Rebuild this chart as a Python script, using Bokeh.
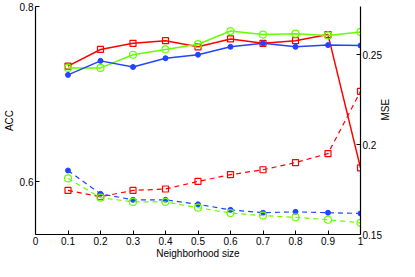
import math
from bokeh.plotting import figure
from bokeh.models import LinearAxis, Range1d, FixedTicker
from bokeh.embed import file_html
from bokeh.resources import INLINE

x = [0.1, 0.2, 0.3, 0.4, 0.5, 0.6, 0.7, 0.8, 0.9, 1.0]

acc_red = [0.732, 0.751, 0.758, 0.761, 0.754, 0.763, 0.758, 0.761, 0.768, 0.616]
acc_green = [0.730, 0.730, 0.745, 0.751, 0.757, 0.772, 0.768, 0.769, 0.767, 0.771]
acc_blue = [0.722, 0.738, 0.731, 0.741, 0.745, 0.754, 0.758, 0.754, 0.756, 0.7555]

mse_red = [0.1745, 0.171, 0.1745, 0.1753, 0.1795, 0.1833, 0.186, 0.190, 0.195, 0.2296]
mse_blue = [0.1856, 0.1726, 0.1693, 0.1693, 0.1668, 0.1637, 0.1621, 0.1626, 0.1621, 0.1617]
mse_green = [0.1812, 0.1705, 0.1681, 0.1681, 0.1649, 0.1619, 0.1605, 0.1596, 0.1582, 0.1565]

x_ticks = [0, 0.1, 0.2, 0.3, 0.4, 0.5, 0.6, 0.7, 0.8, 0.9, 1.0]
x_labels = ["0", "0.1", "0.2", "0.3", "0.4", "0.5", "0.6", "0.7", "0.8", "0.9", "1"]
left_ticks = [0.6, 0.8]
right_ticks = [0.15, 0.2, 0.25]

RED = "#FF0000"
GREEN = "#66FF00"
BLUE = "#2244FF"
FONT = "Liberation Sans"

p = figure(width=399, height=261, output_backend="svg", toolbar_location=None,
           x_range=Range1d(0, 1), y_range=Range1d(0.54, 0.8),
           min_border_left=33, min_border_right=30, min_border_top=6, min_border_bottom=22)
p.outline_line_color = None
p.grid.visible = False
p.background_fill_color = "white"
p.border_fill_color = "white"

p.extra_y_ranges = {"mse": Range1d(0.15, 0.2768)}
raxis = LinearAxis(y_range_name="mse")
p.add_layout(raxis, "right")

for ax in [p.xaxis[0], p.yaxis[0], raxis]:
    ax.major_tick_in = 4
    ax.major_tick_out = 0
    ax.minor_tick_in = 0
    ax.minor_tick_out = 0
    ax.minor_tick_line_color = None
    ax.axis_line_color = "black"
    ax.axis_line_width = 1.2
    ax.major_tick_line_color = "black"
    ax.major_label_text_font = FONT
    ax.major_label_text_font_size = "10px"
    ax.major_label_text_color = "black"
    ax.axis_label_text_font = FONT
    ax.axis_label_text_font_size = "10px"
    ax.axis_label_text_font_style = "normal"
    ax.axis_label_text_color = "black"

p.xaxis[0].ticker = FixedTicker(ticks=x_ticks)
p.xaxis[0].major_label_overrides = {t: l for t, l in zip(x_ticks, x_labels)}
p.xaxis[0].axis_label = "Neighborhood size"
p.xaxis[0].major_label_standoff = 2
p.xaxis[0].axis_label_standoff = 0

p.yaxis[0].ticker = FixedTicker(ticks=left_ticks)
p.yaxis[0].axis_label = "ACC"
p.yaxis[0].major_label_standoff = 2
p.yaxis[0].axis_label_standoff = 2

raxis.ticker = FixedTicker(ticks=right_ticks)
raxis.major_label_standoff = 2
raxis.axis_label = "MSE"
raxis.axis_label_standoff = 1
if "axis_label_orientation" in raxis.properties():
    raxis.axis_label_orientation = math.pi / 2

# ACC (solid, left axis)
p.line(x, acc_red, color=RED, line_width=1.5)
p.scatter(x, acc_red, marker="square", size=6, line_color=RED, fill_color=None, line_width=1.2)
p.line(x, acc_green, color=GREEN, line_width=1.5)
p.scatter(x, acc_green, marker="circle", size=7, line_color=GREEN, fill_color=None, line_width=1.2)
p.line(x, acc_blue, color=BLUE, line_width=1.5)
p.scatter(x, acc_blue, marker="circle", size=5, line_color=BLUE, fill_color=BLUE)

# MSE (dashed, right axis)
p.line(x, mse_red, color=RED, line_width=1.2, line_dash="5 4", y_range_name="mse")
p.scatter(x, mse_red, marker="square", size=6, line_color=RED, fill_color=None, line_width=1.2, y_range_name="mse")
p.line(x, mse_blue, color=BLUE, line_width=1.2, line_dash="5 4", y_range_name="mse")
p.scatter(x, mse_blue, marker="circle", size=5, line_color=BLUE, fill_color=BLUE, y_range_name="mse")
p.line(x, mse_green, color=GREEN, line_width=1.2, line_dash="5 4", y_range_name="mse")
p.scatter(x, mse_green, marker="circle", size=7, line_color=GREEN, fill_color=None, line_width=1.2, y_range_name="mse")

open("out.html", "w").write(file_html(p, INLINE))
